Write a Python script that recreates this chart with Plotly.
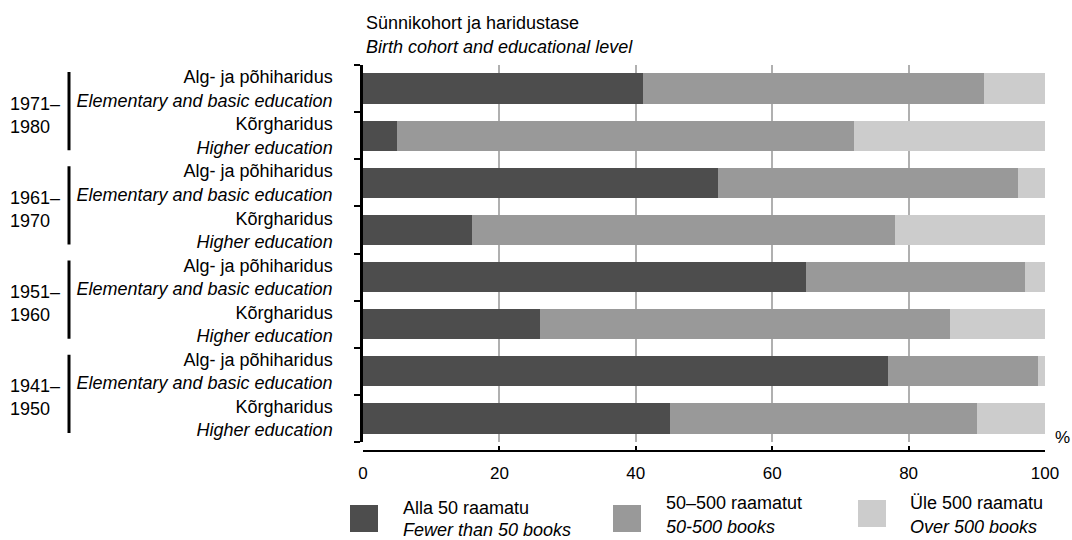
import plotly.graph_objects as go

# ---- data ----
cohorts = ["1971–1980", "1961–1970", "1951–1960", "1941–1950"]
levels_et = ["Alg- ja põhiharidus", "Kõrgharidus"]
levels_en = ["Elementary and basic education", "Higher education"]
fewer_than_50 = [41, 5, 52, 16, 65, 26, 77, 45]
books_50_500 = [50, 67, 44, 62, 32, 60, 22, 45]
over_500 = [9, 28, 4, 22, 3, 14, 1, 10]
series_et = ["Alla 50 raamatu", "50–500 raamatut", "Üle 500 raamatu"]
series_en = ["Fewer than 50 books", "50-500 books", "Over 500 books"]
x_ticks = [0, 20, 40, 60, 80, 100]

colors = ["#4d4d4d", "#999999", "#cccccc"]
FONT = "Liberation Sans, Arial, sans-serif"
W, H = 1072, 540


def px(x):
    return x / W


def py(y):
    return 1 - y / H


PLOT_TOP, PLOT_BOT = 65, 442

row_ids = []
row_text = []
for c in cohorts:
    for et, en in zip(levels_et, levels_en):
        row_ids.append(f"{c}|{et}")
        row_text.append(f"{et}<br><i>{en}</i>")

fig = go.Figure()
for vals, name, col in zip([fewer_than_50, books_50_500, over_500], series_en, colors):
    fig.add_trace(go.Bar(
        x=vals, y=row_ids, orientation="h", name=name,
        marker=dict(color=col, line=dict(width=0)),
        showlegend=False, hoverinfo="x+name",
    ))

fig.update_layout(
    width=W, height=H,
    margin=dict(l=0, r=0, t=0, b=0, autoexpand=False),
    paper_bgcolor="white", plot_bgcolor="white",
    barmode="stack", bargap=0.36,
    font=dict(family=FONT, size=18, color="#000"),
    xaxis=dict(
        domain=[px(363), px(1045)], range=[0, 100],
        tickmode="array", tickvals=x_ticks,
        showgrid=True, gridcolor="#b0b0b0", gridwidth=1.5,
        zeroline=False, automargin=False,
        showline=True, linecolor="#000", linewidth=2,
        anchor="free", position=py(451),
        ticks="inside", ticklen=4, tickcolor="#000", tickwidth=1.5,
        ticklabelstandoff=7,
        tickfont=dict(size=17),
    ),
    yaxis=dict(
        domain=[py(PLOT_BOT), py(PLOT_TOP)],
        type="category", categoryorder="array", categoryarray=row_ids,
        autorange="reversed", automargin=False,
        tickmode="array", tickvals=row_ids, ticktext=row_text,
        tickson="boundaries",
        ticks="outside", ticklen=6, tickcolor="#000", tickwidth=2,
        showline=True, linecolor="#000", linewidth=2.5,
        showgrid=False, zeroline=False,
        ticklabelstandoff=24,
        tickfont=dict(size=18),
    ),
)

# titles
fig.add_annotation(x=px(364), y=py(23), xref="paper", yref="paper",
                   text="Sünnikohort ja haridustase", showarrow=False,
                   xanchor="left", yanchor="middle", font=dict(size=18))
fig.add_annotation(x=px(364), y=py(47), xref="paper", yref="paper",
                   text="<i>Birth cohort and educational level</i>", showarrow=False,
                   xanchor="left", yanchor="middle", font=dict(size=18))

# percent sign
fig.add_annotation(x=px(1053), y=py(437), xref="paper", yref="paper",
                   text="%", showarrow=False, xanchor="left", yanchor="middle",
                   font=dict(size=17))

# cohort group labels and brackets
row_h = (PLOT_BOT - PLOT_TOP) / len(row_ids)
for i, c in enumerate(cohorts):
    top = PLOT_TOP + 2 * i * row_h
    bot = top + 2 * row_h
    a, b = c.split("–")
    fig.add_annotation(x=px(8), y=py((top + bot) / 2 + 3), xref="paper", yref="paper",
                       text=f"{a}–<br>{b}", showarrow=False, xanchor="left",
                       yanchor="middle", align="left", font=dict(size=18))
    fig.add_shape(type="line", xref="paper", yref="paper",
                  x0=px(69), x1=px(69), y0=py(top + 7), y1=py(bot - 9),
                  line=dict(color="#000", width=3))

# legend
leg = [
    dict(sq=(350, 378, 505, 532), tx=401, y1=508, y2=530),
    dict(sq=(613, 641, 505, 532), tx=664, y1=503, y2=527),
    dict(sq=(858, 886, 500, 527), tx=908, y1=503, y2=527),
]
for l, et, en, col in zip(leg, series_et, series_en, colors):
    x0, x1, y0, y1 = l["sq"]
    fig.add_shape(type="rect", xref="paper", yref="paper",
                  x0=px(x0), x1=px(x1), y0=py(y0), y1=py(y1),
                  fillcolor=col, line=dict(width=0))
    fig.add_annotation(x=px(l["tx"]), y=py(l["y1"]), xref="paper", yref="paper",
                       text=et, showarrow=False, xanchor="left", yanchor="middle",
                       font=dict(size=18))
    fig.add_annotation(x=px(l["tx"]), y=py(l["y2"]), xref="paper", yref="paper",
                       text=f"<i>{en}</i>", showarrow=False, xanchor="left",
                       yanchor="middle", font=dict(size=18))

fig.write_html("out.html", config={"displayModeBar": False},
               post_script="document.body.style.margin='0px';")
